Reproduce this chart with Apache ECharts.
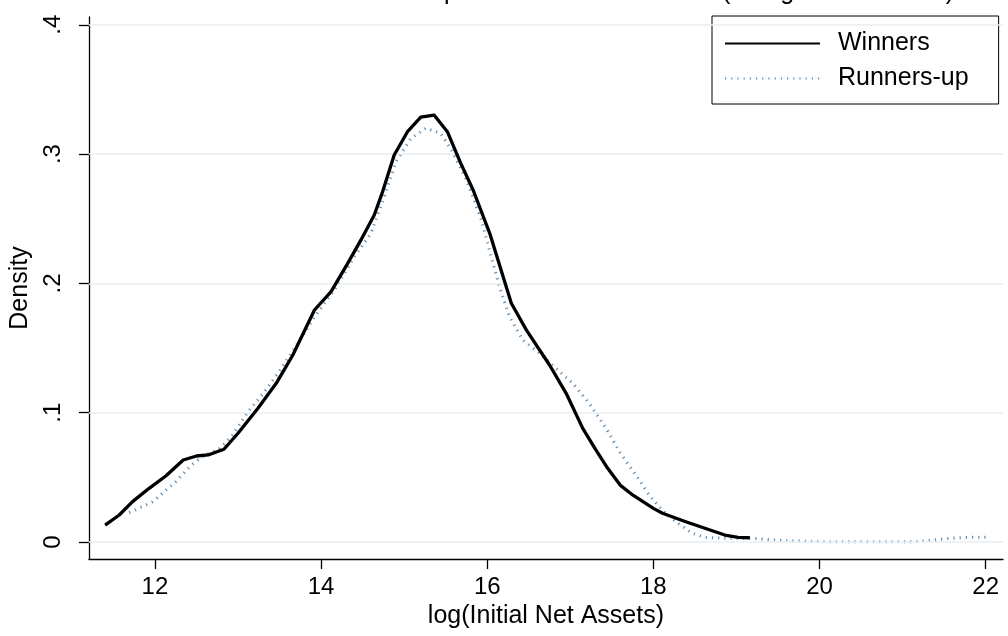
<!DOCTYPE html>
<html>
<head>
<meta charset="utf-8">
<script src="https://cdn.jsdelivr.net/npm/echarts@6/dist/echarts.min.js"></script>
<style>
html,body{margin:0;padding:0;background:#fff;}
#chart{width:1008px;height:636px;}
</style>
</head>
<body>
<div id="chart"></div>
<script>
// ---- data ----
const titleText = "Winners and Runners-up Fund Initial Net Assets (Using all fund sizes)";
const xTickValues = [12, 14, 16, 18, 20, 22];
const yTickValues = [0, 0.1, 0.2, 0.3, 0.4];
const yTickLabels = ["0", ".1", ".2", ".3", ".4"];
const seriesNames = ["Winners", "Runners-up"];

const winnersX = [11.40, 11.57, 11.73, 11.93, 12.13, 12.34, 12.50, 12.64, 12.83, 13.00, 13.24, 13.46, 13.66, 13.92, 14.12, 14.32, 14.48, 14.64, 14.74, 14.88, 15.04, 15.20, 15.36, 15.52, 15.68, 15.83, 16.03, 16.29, 16.47, 16.75, 16.95, 17.15, 17.30, 17.45, 17.60, 17.75, 18.00, 18.11, 18.39, 18.62, 18.86, 19.02, 19.16];
const winnersY = [0.0131, 0.0209, 0.0312, 0.0415, 0.0510, 0.0634, 0.0665, 0.0673, 0.0717, 0.0841, 0.1034, 0.1227, 0.1446, 0.1794, 0.1936, 0.2155, 0.2336, 0.2529, 0.2709, 0.2993, 0.3173, 0.3285, 0.3302, 0.3173, 0.2930, 0.2722, 0.2387, 0.1846, 0.1640, 0.1369, 0.1150, 0.0879, 0.0720, 0.0570, 0.0440, 0.0364, 0.0260, 0.0222, 0.0157, 0.0106, 0.0054, 0.0036, 0.0033];

const runnersX = [11.69, 11.97, 12.25, 12.44, 12.60, 12.76, 12.92, 13.12, 13.32, 13.48, 13.68, 13.92, 14.16, 14.40, 14.60, 14.76, 14.90, 15.08, 15.26, 15.44, 15.57, 15.75, 15.93, 16.05, 16.15, 16.27, 16.43, 16.63, 16.83, 17.03, 17.23, 17.43, 17.60, 17.83, 17.95, 18.11, 18.27, 18.47, 18.62, 18.86, 19.18, 19.58, 19.98, 20.38, 20.78, 21.17, 21.38, 21.58, 21.78, 22.02];
const runnersY = [0.0227, 0.0310, 0.0467, 0.0596, 0.0673, 0.0712, 0.0814, 0.1008, 0.1162, 0.1305, 0.1498, 0.1740, 0.1950, 0.2206, 0.2387, 0.2670, 0.2940, 0.3120, 0.3200, 0.3160, 0.3030, 0.2800, 0.2490, 0.2200, 0.1970, 0.1740, 0.1560, 0.1460, 0.1340, 0.1227, 0.1070, 0.0880, 0.0690, 0.0480, 0.0360, 0.0247, 0.0157, 0.0067, 0.0036, 0.0029, 0.0029, 0.0010, 0.0003, 0.0002, 0.0002, 0.0003, 0.0015, 0.0029, 0.0036, 0.0036];

const xAxisTitle = "log(Initial Net Assets)";
const yAxisTitle = "Density";

// ---- build ----
const pair = (xs, ys) => xs.map((x, i) => [x, ys[i]]);
const font = "'Liberation Sans', Arial, Helvetica, sans-serif";

const chart = echarts.init(document.getElementById('chart'), null, {renderer: 'canvas'});
chart.setOption({
  animation: false,
  backgroundColor: '#ffffff',
  textStyle: {fontFamily: font},
  title: {
    text: titleText,
    left: 180,
    top: -20,
    padding: 0,
    textStyle: {fontFamily: font, fontSize: 25, fontWeight: 'normal', color: '#000'}
  },
  grid: {left: 83, right: 5, top: 17, bottom: 77, containLabel: false},
  legend: {
    orient: 'vertical',
    left: 712,
    top: 16,
    padding: [15, 30, 13, 12],
    itemGap: 10,
    itemWidth: 95,
    itemHeight: 25,
    backgroundColor: '#fff',
    borderColor: '#000',
    borderWidth: 1,
    borderRadius: 0,
    itemStyle: {opacity: 0},
    textStyle: {fontFamily: font, fontSize: 25, color: '#000', padding: [0, 0, 0, 13]},
    data: seriesNames
  },
  xAxis: {
    type: 'value',
    min: 11.2046,
    max: 22.209,
    name: xAxisTitle,
    nameLocation: 'middle',
    nameGap: 32,
    nameTextStyle: {fontFamily: font, fontSize: 25, color: '#000'},
    axisLine: {show: true, onZero: false, lineStyle: {color: '#000', width: 1.3}},
    axisTick: {show: true, length: 10, customValues: xTickValues, lineStyle: {color: '#000', width: 1.3}},
    axisLabel: {customValues: xTickValues, margin: 16, fontFamily: font, fontSize: 24, color: '#000'},
    splitLine: {show: false}
  },
  yAxis: {
    type: 'value',
    min: -0.01315,
    max: 0.406,
    name: yAxisTitle,
    nameLocation: 'middle',
    nameGap: 50,
    nameRotate: 90,
    nameTextStyle: {fontFamily: font, fontSize: 25, color: '#000'},
    axisLine: {show: true, onZero: false, lineStyle: {color: '#000', width: 1.3}},
    axisTick: {show: true, length: 10, customValues: yTickValues, lineStyle: {color: '#000', width: 1.3}},
    axisLabel: {
      customValues: yTickValues,
      rotate: 90,
      margin: 24,
      fontFamily: font, fontSize: 24, color: '#000',
      formatter: function (v) {
        const i = yTickValues.findIndex(t => Math.abs(t - v) < 1e-9);
        return i >= 0 ? yTickLabels[i] : '';
      }
    },
    splitLine: {show: false}
  },
  series: [
    {
      name: seriesNames[0],
      type: 'line',
      data: pair(winnersX, winnersY),
      showSymbol: false,
      symbol: 'none',
      smooth: false,
      z: 5,
      lineStyle: {color: '#000000', width: 3.3, type: 'solid', join: 'round'},
      itemStyle: {color: '#000000'},
      markLine: {
        silent: true,
        symbol: ['none', 'none'],
        label: {show: false},
        animation: false,
        lineStyle: {color: '#e6eef2', width: 1.6, type: 'solid'},
        data: yTickValues.map(v => ({yAxis: v}))
      }
    },
    {
      name: seriesNames[1],
      type: 'line',
      data: pair(runnersX, runnersY),
      showSymbol: false,
      symbol: 'none',
      smooth: false,
      z: 4,
      lineStyle: {color: '#3f78a8', width: 3, type: [1.2, 5], cap: 'butt', opacity: 0.85},
      itemStyle: {color: '#3f78a8'}
    }
  ]
});
</script>
</body>
</html>
